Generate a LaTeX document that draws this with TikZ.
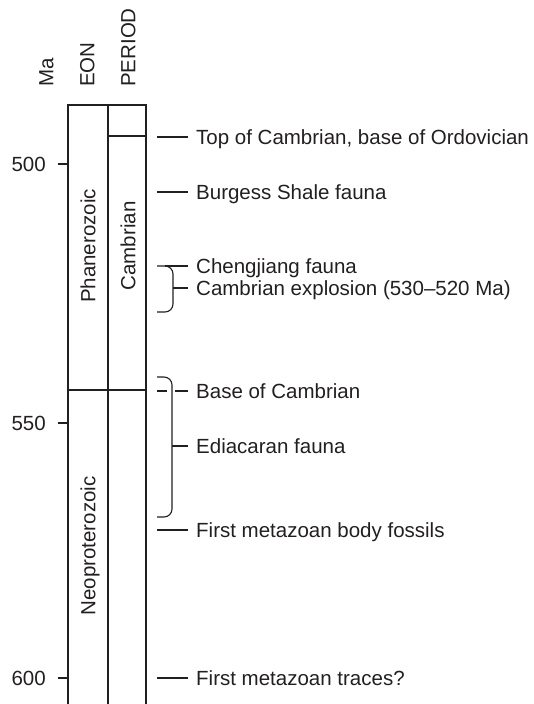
\documentclass[tikz,border=0pt]{standalone}
\usepackage{fontspec}
\setmainfont{Liberation Sans}
\usetikzlibrary{positioning}
\definecolor{ink}{HTML}{231F20}

\begin{document}
\begin{tikzpicture}[
    x=1pt, y=-1pt,
    every node/.style={
        font=\fontsize{20.5}{24}\selectfont,
        text=ink,
        inner sep=0pt,
        text height=14.7pt,
        text depth=0pt
    },
    header/.style={
        rotate=90,
        anchor=west
    },
    unit/.style={
        rotate=90
    },
    column/.style={
        draw=ink,
        line width=2.4pt
    },
    leader/.style={
        draw=ink,
        line width=1.1pt,
        shorten >=8pt
    },
    brace/.style={
        draw=ink,
        line width=1.1pt,
        rounded corners=8pt
    }
]
\useasboundingbox (0,0) rectangle (534,704);

% Column frame
\draw[column] (68,704) -- (68,105) -- (146,105) -- (146,704);
\draw[column] (108,105) -- (108,704);
\draw[column] (68,390) -- (146,390);
\draw[column] (108,136) -- (146,136);

% Headers
\node[header] (ma) at (46,87) {Ma};
\node[header] (eon) at (87,87) {EON};
\node[header] (period) at (128,87) {PERIOD};

% Eons and periods
\node[unit] (phan) at (88,246) {Phanerozoic};
\node[unit] (camb) at (128,246) {Cambrian};
\node[unit] (neo) at (88,546) {Neoproterozoic};

% Age scale
\foreach \age/\y in {500/164, 550/423, 600/678} {
    \coordinate (t\age) at (68,\y);
    \coordinate (s\age) at (58,\y);
    \draw[leader, shorten >=0pt] (t\age) -- (s\age);
    \node[left=12pt of s\age] (n\age) {\age};
}

% Events
\coordinate (top_s) at (157,137);
\node[right=39pt of top_s] (top) {Top of Cambrian, base of Ordovician};
\draw[leader] (top_s) -- (top);

\coordinate (burgess_s) at (157,192);
\node[right=39pt of burgess_s] (burgess) {Burgess Shale fauna};
\draw[leader] (burgess_s) -- (burgess);

\draw[brace] (157,266) -- (173,266) -- (173,312) -- (157,312);
\coordinate (cheng_s) at (165,266);
\node[right=31pt of cheng_s] (cheng) {Chengjiang fauna};
\draw[leader] (cheng_s) -- (cheng);

\coordinate (explo_s) at (173,288);
\node[right=23pt of explo_s] (explo) {Cambrian explosion (530--520 Ma)};
\draw[leader] (explo_s) -- (explo);

\draw[brace] (157,377) -- (172,377) -- (172,517) -- (157,517);
\coordinate (base_a) at (157,391);
\coordinate (base_b) at (167,391);
\draw[leader, shorten >=0pt] (base_a) -- (base_b);
\coordinate (base_s) at (175,391);
\node[right=21pt of base_s] (base) {Base of Cambrian};
\draw[leader] (base_s) -- (base);

\coordinate (edi_s) at (172,446);
\node[right=24pt of edi_s] (edi) {Ediacaran fauna};
\draw[leader] (edi_s) -- (edi);

\coordinate (body_s) at (157,530);
\node[right=39pt of body_s] (body) {First metazoan body fossils};
\draw[leader] (body_s) -- (body);

\coordinate (traces_s) at (157,678);
\node[right=39pt of traces_s] (traces) {First metazoan traces?};
\draw[leader] (traces_s) -- (traces);

\end{tikzpicture}
\end{document}
